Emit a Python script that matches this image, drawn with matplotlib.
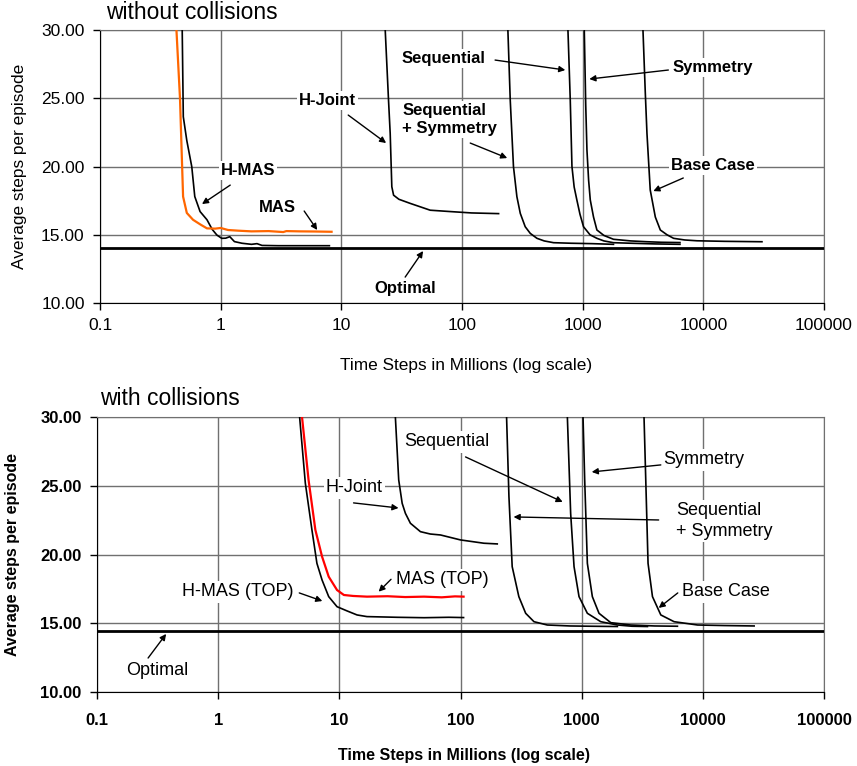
import matplotlib
matplotlib.use("Agg")
import matplotlib.pyplot as plt
from matplotlib.ticker import FixedLocator, FuncFormatter, NullLocator

plt.rcParams['font.family'] = ['Liberation Sans', 'DejaVu Sans']

# ---- without collisions (top panel) ----
top_optimal = 14.05

top_mas_x = [0.43, 0.46, 0.488, 0.524, 0.59, 0.68, 0.77, 0.9, 1.0, 1.15, 1.4, 1.8, 2.5, 3.3, 3.5, 4.5, 6.0, 8.3]
top_mas_y = [30.0, 25.0, 17.8, 16.6, 16.1, 15.75, 15.47, 15.45, 15.5, 15.35, 15.3, 15.25, 15.27, 15.2, 15.27, 15.25, 15.24, 15.22]

top_hmas_x = [0.48, 0.49, 0.524, 0.576, 0.61, 0.675, 0.77, 0.85, 0.93, 1.02, 1.1, 1.19, 1.3, 1.5, 1.8, 2.0, 2.2, 3.0, 5.0, 7.96]
top_hmas_y = [30.0, 23.65, 21.9, 19.99, 17.8, 16.7, 16.1, 15.4, 14.98, 14.74, 14.75, 14.86, 14.5, 14.38, 14.3, 14.35, 14.22, 14.2, 14.2, 14.2]

top_hjoint_x = [23.1, 24.6, 25.4, 26.2, 27.1, 30, 37.2, 54.5, 80, 120, 201]
top_hjoint_y = [30.0, 24.87, 22.43, 18.52, 17.9, 17.6, 17.3, 16.8, 16.7, 16.6, 16.55]

top_seqsym_x = [240, 251, 267, 285, 304, 334, 368, 418, 480, 574, 800, 1200, 1800]
top_seqsym_y = [30.0, 24.87, 19.99, 17.79, 16.57, 15.59, 15.1, 14.74, 14.55, 14.42, 14.38, 14.35, 14.3]

top_seq_x = [755, 789, 815, 850, 895, 950, 1016, 1150, 1312, 1500, 1800, 2500, 4000, 6400]
top_seq_y = [30.0, 24.87, 20.0, 18.5, 17.55, 16.5, 15.59, 15.0, 14.74, 14.55, 14.42, 14.38, 14.33, 14.3]

top_sym_x = [1031, 1060, 1085, 1120, 1156, 1230, 1312, 1500, 1800, 2500, 3410, 4500, 6400]
top_sym_y = [30.0, 24.5, 21.2, 19.0, 17.55, 16.3, 15.35, 14.95, 14.67, 14.55, 14.49, 14.45, 14.43]

top_base_x = [3160, 3300, 3410, 3630, 4000, 4400, 5000, 5670, 7000, 8860, 15000, 30600]
top_base_y = [30.0, 25.5, 22.43, 18.28, 16.3, 15.35, 15.0, 14.74, 14.62, 14.56, 14.52, 14.49]

# ---- with collisions (bottom panel) ----
bot_optimal = 14.48

bot_mas_x = [4.92, 5.57, 6.34, 7.2, 8.17, 9.57, 10.9, 13, 16.9, 25, 35, 50, 70, 90, 106]
bot_mas_y = [30.0, 25.43, 21.8, 19.86, 18.4, 17.43, 17.07, 17.0, 16.95, 16.98, 16.92, 16.95, 16.9, 16.97, 16.95]

bot_hmas_x = [4.7, 5.24, 5.94, 6.53, 7.2, 8.17, 9.57, 11.6, 14, 16.9, 30, 50, 80, 106]
bot_hmas_y = [30.0, 25.19, 21.8, 19.37, 18.16, 16.95, 16.22, 15.91, 15.62, 15.5, 15.45, 15.42, 15.45, 15.43]

bot_hjoint_x = [29, 30.9, 33, 35.1, 38.6, 46.7, 56.3, 68.4, 100, 156, 201]
bot_hjoint_y = [30.0, 25.43, 23.73, 23.0, 22.28, 21.67, 21.5, 21.43, 21.07, 20.83, 20.78]

bot_seqsym_x = [240, 251, 267, 303, 345, 404, 520, 800, 1200, 1970]
bot_seqsym_y = [30.0, 24.22, 19.13, 16.95, 15.74, 15.13, 14.89, 14.82, 14.8, 14.78]

bot_seq_x = [762, 811, 865, 951, 1114, 1437, 1970, 2600, 3490]
bot_seq_y = [30.0, 23.0, 19.13, 16.95, 15.74, 15.13, 14.89, 14.8, 14.78]

bot_sym_x = [1026, 1059, 1114, 1225, 1390, 1738, 2540, 4000, 6170]
bot_sym_y = [30.0, 25.43, 19.37, 16.95, 15.74, 15.06, 14.89, 14.82, 14.8]

bot_base_x = [3270, 3380, 3530, 3840, 4500, 5790, 9040, 15000, 26500]
bot_base_y = [30.0, 25.43, 19.37, 16.95, 15.62, 15.13, 14.89, 14.85, 14.82]

x_ticks = [0.1, 1, 10, 100, 1000, 10000, 100000]
y_ticks = [10, 15, 20, 25, 30]

# label text, text position, arrow tail, arrow head (data coords)
top_labels = [
    ("Sequential", (69.9, 27.95), (188, 27.8), (718, 27.07), "center"),
    ("Symmetry", (11900, 27.29), (5130, 27.07), (1135, 26.41), "center"),
    ("H-Joint", (7.62, 24.87), (11.4, 23.77), (23.5, 21.72), "center"),
    ("Sequential\n+ Symmetry", (31.9, 23.44), (117, 21.72), (237, 20.62), "left"),
    ("H-MAS", (1.69, 19.74), (1.2, 18.64), (0.70, 17.25), "center"),
    ("MAS", (2.94, 17.03), (4.92, 16.74), (6.31, 15.35), "center"),
    ("Optimal", (33.8, 11.1), (33.8, 11.9), (47.6, 13.81), "center"),
    ("Base Case", (12100, 20.11), (6820, 19.16), (3850, 18.2), "center"),
]

bot_labels = [
    ("Sequential", (76.6, 28.19), (110, 27.1), (697, 23.83), "center"),
    ("Symmetry", (10200, 26.88), (4500, 26.52), (1210, 26.01), "center"),
    ("Sequential\n+ Symmetry", (5980, 22.45), (4320, 22.52), (274, 22.74), "left"),
    ("H-Joint", (13.3, 24.85), (13.1, 23.76), (30.8, 23.39), "center"),
    ("MAS (TOP)", (71, 18.16), (26.7, 18.21), (21.1, 17.31), "center"),
    ("H-MAS (TOP)", (1.44, 17.29), (4.67, 17.22), (7.24, 16.63), "center"),
    ("Optimal", (0.313, 11.55), (0.264, 12.49), (0.372, 14.24), "center"),
    ("Base Case", (15500, 17.29), (6210, 17.22), (4320, 16.13), "center"),
]

grid_color = "#707070"


def tick_text(v, pos):
    if v < 1:
        return "%g" % v
    return "%d" % v


def setup_axis(ax, weight, tick_size, label_size, pad):
    ax.set_xscale("log")
    ax.set_xlim(0.1, 100000)
    ax.set_ylim(10, 30)
    ax.xaxis.set_major_locator(FixedLocator(x_ticks))
    ax.xaxis.set_minor_locator(NullLocator())
    ax.xaxis.set_major_formatter(FuncFormatter(tick_text))
    ax.yaxis.set_major_locator(FixedLocator(y_ticks))
    ax.yaxis.set_major_formatter(FuncFormatter(lambda v, p: "%.2f" % v))
    ax.grid(True, color=grid_color, linewidth=1.0)
    ax.set_axisbelow(True)
    ax.tick_params(direction="out", length=5, width=1, pad=6, labelsize=tick_size, colors="black")
    ax.tick_params(axis="x", pad=pad)
    for lbl in ax.get_xticklabels() + ax.get_yticklabels():
        lbl.set_fontweight(weight)
    ax.spines["top"].set_color(grid_color)
    ax.spines["right"].set_color(grid_color)
    ax.spines["left"].set_color("black")
    ax.spines["bottom"].set_color("black")
    ax.set_ylabel("Average steps per episode", fontsize=label_size, fontweight=weight)
    ax.set_xlabel("Time Steps in Millions (log scale)", fontsize=label_size, fontweight=weight)


def add_labels(ax, labels, weight, size):
    for text, pos, tail, head, ha in labels:
        ax.text(pos[0], pos[1], text, ha=ha, va="center", fontsize=size, fontweight=weight,
                linespacing=1.25, zorder=4,
                bbox=dict(facecolor="white", edgecolor="none", pad=1.5))
        ax.annotate("", xy=head, xytext=tail, zorder=5,
                    arrowprops=dict(arrowstyle="-|>", color="black", lw=1.0,
                                    mutation_scale=9, shrinkA=0, shrinkB=0))


fig = plt.figure(figsize=(8.57, 7.66), dpi=100)
ax1 = fig.add_axes([0.1167, 0.6044, 0.8448, 0.3564])
ax2 = fig.add_axes([0.1132, 0.0962, 0.8483, 0.3594])

# top panel
setup_axis(ax1, "normal", 12.5, 12.4, 6)
ax1.axhline(top_optimal, color="black", lw=2.0, zorder=3)
ax1.plot(top_hmas_x, top_hmas_y, color="black", lw=1.2, zorder=3)
ax1.plot(top_mas_x, top_mas_y, color="#FF6600", lw=1.6, zorder=3)
for xs, ys in [(top_hjoint_x, top_hjoint_y), (top_seqsym_x, top_seqsym_y), (top_seq_x, top_seq_y),
               (top_sym_x, top_sym_y), (top_base_x, top_base_y)]:
    ax1.plot(xs, ys, color="black", lw=1.2, zorder=3)
add_labels(ax1, top_labels, "bold", 12)
ax1.text(0.008, 1.066, "without collisions", transform=ax1.transAxes, ha="left", va="center", fontsize=16.5)
ax1.yaxis.set_label_coords(-0.101, 0.5)
ax1.xaxis.set_label_coords(0.505, -0.2)

# bottom panel
setup_axis(ax2, "bold", 12, 11.5, 10)
ax2.axhline(bot_optimal, color="black", lw=2.0, zorder=3)
ax2.plot(bot_hmas_x, bot_hmas_y, color="black", lw=1.2, zorder=3)
ax2.plot(bot_mas_x, bot_mas_y, color="#FF0000", lw=1.6, zorder=3)
for xs, ys in [(bot_hjoint_x, bot_hjoint_y), (bot_seqsym_x, bot_seqsym_y), (bot_seq_x, bot_seq_y),
               (bot_sym_x, bot_sym_y), (bot_base_x, bot_base_y)]:
    ax2.plot(xs, ys, color="black", lw=1.2, zorder=3)
add_labels(ax2, bot_labels, "normal", 13)
ax2.text(0.004, 1.069, "with collisions", transform=ax2.transAxes, ha="left", va="center", fontsize=16.5)
ax2.yaxis.set_label_coords(-0.106, 0.5)
ax2.xaxis.set_label_coords(0.505, -0.203)

fig.savefig("out.png", dpi=100)
